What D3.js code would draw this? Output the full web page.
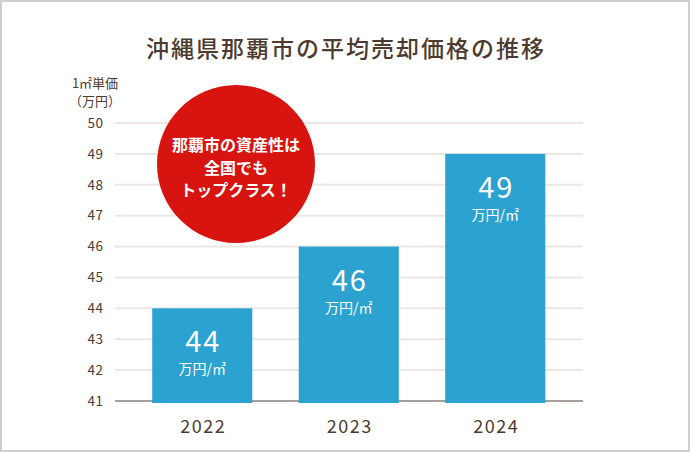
<!DOCTYPE html>
<html><head><meta charset="utf-8">
<script src="https://cdn.jsdelivr.net/npm/d3@7"></script>
<style>
html,body{margin:0;padding:0;background:#fff;}
svg{display:block;font-family:"Noto Sans CJK JP","Noto Sans",sans-serif;}
</style></head>
<body>
<script>
const years = ["2022","2023","2024"];
const values = [44, 46, 49];
const yTicks = [41,42,43,44,45,46,47,48,49,50];
const title = "沖縄県那覇市の平均売却価格の推移";
const yTitle = ["1㎡単価","（万円）"];
const unitLabel = "万円/㎡";
const badgeLines = ["那覇市の資産性は","全国でも","トップクラス！"];

const W = 690, H = 452;
const FONT = '"Noto Sans CJK JP","Noto Sans",sans-serif';
const svg = d3.select("body").append("svg").attr("width", W).attr("height", H);

svg.append("rect").attr("x",1).attr("y",1).attr("width",W-2).attr("height",H-2)
  .attr("fill","#fff").attr("stroke","#cfcfcf").attr("stroke-width",2);

const y = d3.scaleLinear().domain([41,50]).range([401,123]);
const x = d3.scaleBand().domain(years).range([129,568.5]).paddingInner(0.317).paddingOuter(0.1585);

svg.append("text").attr("x",345+1).attr("y",57).attr("text-anchor","middle")
  .attr("font-size",23).attr("font-weight",500).attr("letter-spacing",2)
  .attr("fill","#4d3b30").text(title);

// grid
svg.append("g").selectAll("line").data(yTicks.filter(d=>d>41)).join("line")
  .attr("x1",115).attr("x2",583).attr("y1",d=>y(d)).attr("y2",d=>y(d))
  .attr("stroke","#ece7e3").attr("stroke-width",2);

// baseline (drawn under bars)
svg.append("line").attr("x1",115).attr("x2",583).attr("y1",y(41)).attr("y2",y(41))
  .attr("stroke","#a59e99").attr("stroke-width",2);

// y axis labels
const yAxis = d3.axisLeft(y).tickValues(yTicks).tickSize(0).tickPadding(0);
const ya = svg.append("g").attr("transform","translate(103,0)").call(yAxis);
ya.select(".domain").remove();
ya.selectAll("text").attr("font-size",13.5).attr("letter-spacing",0.5).attr("fill","#4d3b30")
  .attr("font-family",FONT).attr("dx",0.5);

svg.selectAll(".ytitle").data(yTitle).join("text").attr("class","ytitle")
  .attr("x",95).attr("y",(d,i)=>88+i*18).attr("text-anchor","middle")
  .attr("font-size",13).attr("fill","#4d3b30").text(d=>d);

// bars
svg.selectAll(".bar").data(values).join("rect").attr("class","bar")
  .attr("x",(d,i)=>x(years[i])).attr("width",x.bandwidth())
  .attr("y",d=>y(d)).attr("height",d=>y(41)+2-y(d))
  .attr("fill","#2ba2cf");

// bar labels
svg.selectAll(".val").data(values).join("text").attr("class","val")
  .attr("x",(d,i)=>x(years[i])+x.bandwidth()/2+1).attr("y",d=>y(d)+44)
  .attr("text-anchor","middle").attr("font-size",29).attr("font-weight",400)
  .attr("letter-spacing",2).attr("fill","#fff").text(d=>d);
svg.selectAll(".unit").data(values).join("text").attr("class","unit")
  .attr("x",(d,i)=>x(years[i])+x.bandwidth()/2).attr("y",d=>y(d)+66)
  .attr("text-anchor","middle").attr("font-size",14)
  .attr("fill","#fff").text(unitLabel);

// x labels
const xAxis = d3.axisBottom(x).tickSize(0).tickPadding(0);
const xa = svg.append("g").attr("transform","translate(1,420)").call(xAxis);
xa.select(".domain").remove();
xa.selectAll("text").attr("font-size",18).attr("letter-spacing",1.5).attr("fill","#4d3b30")
  .attr("font-family",FONT);

// badge
svg.append("circle").attr("cx",236).attr("cy",164).attr("r",79).attr("fill","#d71410");
svg.selectAll(".badge").data(badgeLines).join("text").attr("class","badge")
  .attr("x",236).attr("y",(d,i)=>151+i*22.5).attr("text-anchor","middle")
  .attr("font-size",16).attr("font-weight",700).attr("fill","#fff").text(d=>d);
</script>
</body></html>
